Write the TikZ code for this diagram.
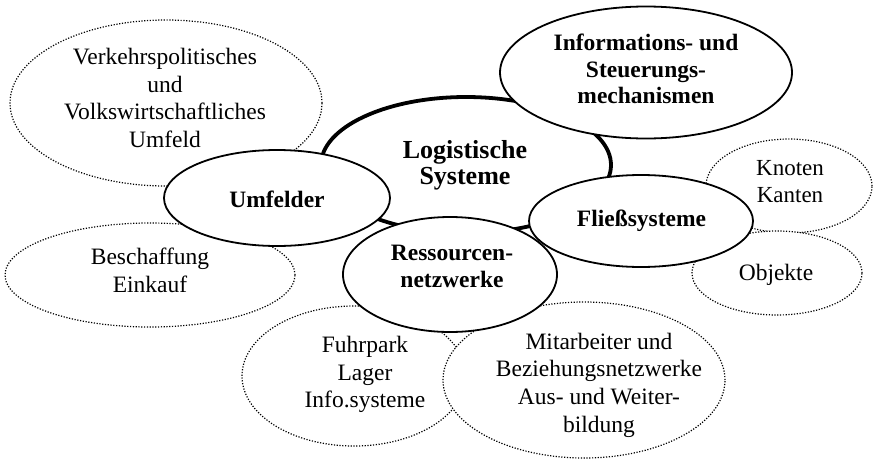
\documentclass[tikz,border=0pt]{standalone}
\usepackage{fontspec}
\setmainfont{Liberation Serif}
\usetikzlibrary{shapes.geometric}
\begin{document}
\begin{tikzpicture}[x=1pt,y=-1pt,
  oval/.style={ellipse, draw, fill=white, inner sep=0pt, line width=1.8pt},
  dots/.style={ellipse, draw, fill=white, inner sep=0pt, line width=1.2pt, dash pattern=on 1.2pt off 1.6pt},
  mainoval/.style={ellipse, draw, fill=white, inner sep=0pt, line width=3.8pt},
  txt/.style={align=center, inner sep=0pt, font=\fontsize{23.5}{27.7}\selectfont},
  btxt/.style={align=center, inner sep=0pt, font=\fontsize{23.5}{26.5}\selectfont\bfseries}]
\useasboundingbox (0,0) rectangle (873,461);
% dotted outer ellipses
\node[dots, minimum width=312pt, minimum height=166pt] (verkE) at (166,103) {};
\node[dots, minimum width=290pt, minimum height=104pt] (beschE) at (150,275) {};
\node[dots, minimum width=224pt, minimum height=140pt] (fuhrE) at (354,376) {};
\node[dots, minimum width=282pt, minimum height=156pt] (mitE) at (584,380) {};
\node[dots, minimum width=166pt, minimum height=94pt] (knotE) at (789,186) {};
\node[dots, minimum width=170pt, minimum height=84pt] (objE) at (777,273) {};
% central
\node[mainoval, minimum width=290pt, minimum height=136pt] (logE) at (466,165) {};
% solid ellipses
\node[oval, minimum width=292pt, minimum height=132pt] (infoE) at (646,72.5) {};
\node[oval, minimum width=226pt, minimum height=96pt] (umfE) at (277,198) {};
\node[oval, minimum width=214pt, minimum height=115pt] (ressE) at (450,274.5) {};
\node[oval, minimum width=224pt, minimum height=92pt] (fliesE) at (641,221) {};
% texts
\node[btxt, font=\fontsize{26}{26}\selectfont\bfseries] (log) at (465,165) {Logistische\\Systeme};
\node[btxt] (info) at (646,69) {Informations- und\\Steuerungs-\\mechanismen};
\node[btxt, anchor=base] (umf) at (277,207) {Umfelder};
\node[btxt] (ress) at (452,266.5) {Ressourcen-\\netzwerke};
\node[btxt, anchor=base] (flies) at (641.5,226) {Fließsysteme};
\node[txt] (verk) at (165,98) {Verkehrspolitisches\\und\\Volkswirtschaftliches\\Umfeld};
\node[txt] (besch) at (150,270.5) {Beschaffung\\Einkauf};
\node[txt, font=\fontsize{23}{27}\selectfont] (knot) at (790,182) {Knoten\\Kanten};
\node[txt, anchor=base] (obj) at (776,280) {Objekte};
\node[txt] (fuhr) at (365,374.5) {Fuhrpark\\Lager\\Info.systeme};
\node[txt] (mit) at (599,385) {Mitarbeiter und\\Beziehungsnetzwerke\\Aus- und Weiter-\\bildung};
\end{tikzpicture}
\end{document}
